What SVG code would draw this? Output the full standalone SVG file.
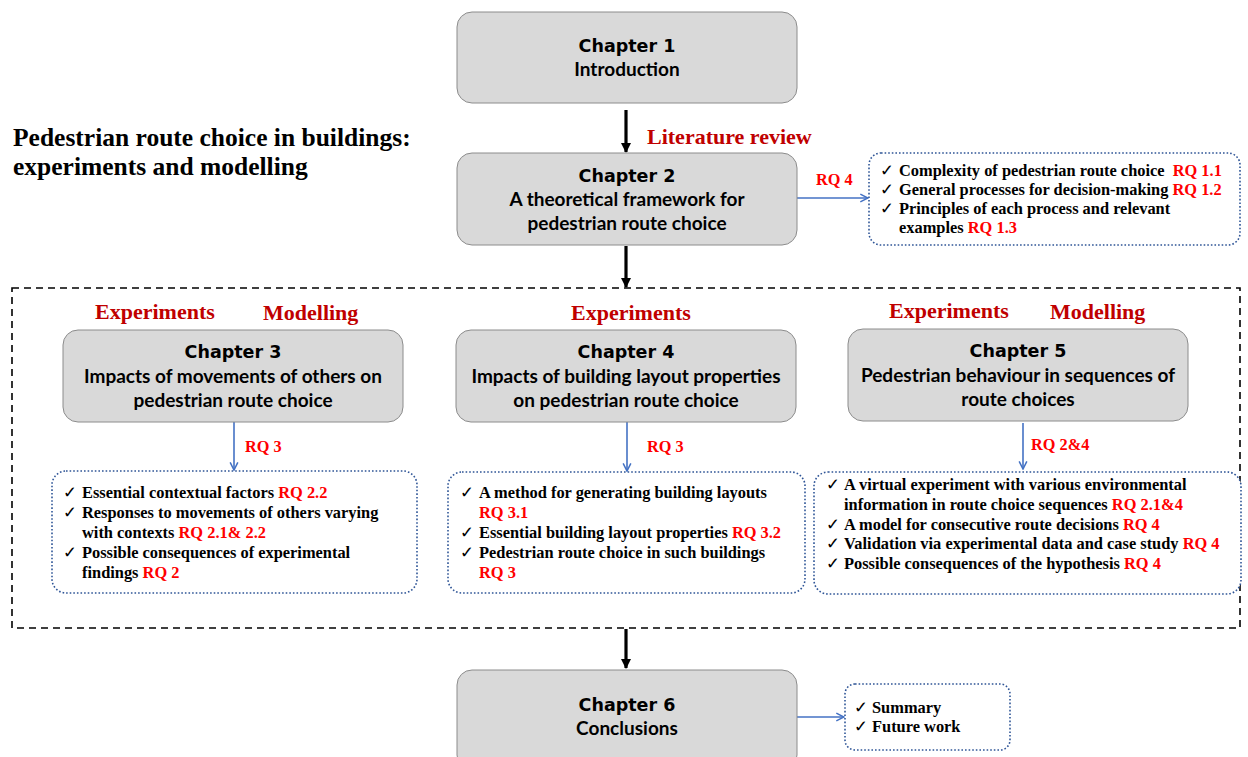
<svg xmlns="http://www.w3.org/2000/svg" width="1248" height="757" viewBox="0 0 1248 757">
  <style>
    .chap { fill: #D9D9D9; stroke: #8C8C8C; stroke-width: 1; }
    .note { fill: #FFFFFF; stroke: #2F5597; stroke-width: 1.6; stroke-dasharray: 1.6 2; }
    .frame { fill: none; stroke: #000; stroke-width: 1.6; stroke-dasharray: 7 5; }
    .flow { stroke: #000; stroke-width: 3.2; fill: none; }
    .link { stroke: #4472C4; stroke-width: 1.6; fill: none; }
    .ch { font-family: "DejaVu Sans", sans-serif; font-weight: bold; font-size: 17.5px; fill: #000; text-anchor: middle; }
    .sub { font-family: Lato, "Open Sans", sans-serif; font-weight: bold; font-size: 19px; fill: #000; text-anchor: middle; }
    .item { font-family: "Liberation Serif", serif; font-weight: bold; font-size: 16.4px; fill: #000; }
    .chk { font-family: "DejaVu Sans", sans-serif; font-size: 16.5px; fill: #000; }
    .rq { fill: #FF0000; }
    .rql { font-family: "Liberation Serif", serif; font-weight: bold; font-size: 16.3px; fill: #FF0000; }
    .tag { font-family: "Liberation Serif", serif; font-weight: bold; font-size: 22px; fill: #C00000; }
    .title { font-family: "Liberation Serif", serif; font-weight: bold; font-size: 25.5px; fill: #000; }
  </style>
  <defs>
    <marker id="blk" viewBox="0 0 10 10" refX="9" refY="5" markerWidth="3.2" markerHeight="3.2" orient="auto" markerUnits="strokeWidth">
      <path d="M0,0 L10,5 L0,10 z" fill="#000"/>
    </marker>
    <marker id="blu" viewBox="0 0 10 10" refX="9" refY="5" markerWidth="6" markerHeight="6" orient="auto" markerUnits="strokeWidth">
      <path d="M1,1 L9,5 L1,9" fill="none" stroke="#4472C4" stroke-width="1.6"/>
    </marker>
  </defs>

  <rect width="1248" height="757" fill="#FFFFFF"/>

  <!-- heading -->
  <text class="title" x="13" y="146">Pedestrian route choice in buildings:</text>
  <text class="title" x="13" y="175">experiments and modelling</text>

  <!-- part frame around chapters 3-5 -->
  <rect class="frame" x="12" y="288" width="1228" height="340"/>

  <!-- connectors -->
  <g id="connectors">
    <line class="flow" x1="626" y1="110" x2="626" y2="152" marker-end="url(#blk)"/>
    <line class="flow" x1="626" y1="246" x2="626" y2="287" marker-end="url(#blk)"/>
    <line class="flow" x1="626" y1="629" x2="626" y2="668" marker-end="url(#blk)"/>
    <line class="link" x1="797" y1="198" x2="868" y2="198" marker-end="url(#blu)"/>
    <line class="link" x1="234" y1="422" x2="234" y2="470" marker-end="url(#blu)"/>
    <line class="link" x1="627" y1="422" x2="627" y2="471" marker-end="url(#blu)"/>
    <line class="link" x1="1023" y1="423" x2="1023" y2="469" marker-end="url(#blu)"/>
    <line class="link" x1="797" y1="717" x2="844" y2="717" marker-end="url(#blu)"/>
    <text class="tag" x="647" y="144">Literature review</text>
    <text class="rql" x="816" y="185">RQ 4</text>
    <text class="rql" x="245" y="452">RQ 3</text>
    <text class="rql" x="647" y="452">RQ 3</text>
    <text class="rql" x="1031" y="450">RQ 2&amp;4</text>
  </g>

  <!-- chapter 1 -->
  <g id="ch1">
    <rect class="chap" x="457" y="12" width="340" height="91" rx="15"/>
    <text class="ch" x="627" y="52">Chapter 1</text>
    <text class="sub" x="627" y="76">Introduction</text>
  </g>

  <!-- chapter 2 -->
  <g id="ch2">
    <rect class="chap" x="457" y="153" width="340" height="92" rx="15"/>
    <text class="ch" x="627" y="182">Chapter 2</text>
    <text class="sub" x="627" y="206">A theoretical framework for</text>
    <text class="sub" x="627" y="230">pedestrian route choice</text>
  </g>

  <g id="ch2-notes">
    <rect class="note" x="869" y="153" width="371" height="92" rx="12"/>
    <text class="chk" x="880" y="176">✓</text>
    <text class="item" x="899" y="176">Complexity of pedestrian route choice <tspan class="rq" dx="4">RQ 1.1</tspan></text>
    <text class="chk" x="880" y="195">✓</text>
    <text class="item" x="899" y="195">General processes for decision-making <tspan class="rq">RQ 1.2</tspan></text>
    <text class="chk" x="880" y="214">✓</text>
    <text class="item" x="899" y="214">Principles of each process and relevant</text>
    <text class="item" x="899" y="233">examples <tspan class="rq">RQ 1.3</tspan></text>
  </g>

  <!-- chapter 3 -->
  <g id="ch3">
    <text class="tag" x="95" y="319">Experiments</text>
    <text class="tag" x="263" y="320">Modelling</text>
    <rect class="chap" x="63" y="330" width="340" height="92" rx="15"/>
    <text class="ch" x="233" y="358">Chapter 3</text>
    <text class="sub" x="233" y="383">Impacts of movements of others on</text>
    <text class="sub" x="233" y="407">pedestrian route choice</text>
  </g>

  <g id="ch3-notes">
    <rect class="note" x="52" y="471" width="365" height="122" rx="14"/>
    <text class="chk" x="63" y="498">✓</text>
    <text class="item" x="82" y="498">Essential contextual factors <tspan class="rq">RQ 2.2</tspan></text>
    <text class="chk" x="63" y="518">✓</text>
    <text class="item" x="82" y="518">Responses to movements of others varying</text>
    <text class="item" x="82" y="538">with contexts <tspan class="rq">RQ 2.1&amp; 2.2</tspan></text>
    <text class="chk" x="63" y="558">✓</text>
    <text class="item" x="82" y="558">Possible consequences of experimental</text>
    <text class="item" x="82" y="578">findings <tspan class="rq">RQ 2</tspan></text>
  </g>

  <!-- chapter 4 -->
  <g id="ch4">
    <text class="tag" x="571" y="320">Experiments</text>
    <rect class="chap" x="456" y="330" width="340" height="92" rx="15"/>
    <text class="ch" x="626" y="358">Chapter 4</text>
    <text class="sub" x="626" y="383">Impacts of building layout properties</text>
    <text class="sub" x="626" y="407">on pedestrian route choice</text>
  </g>

  <g id="ch4-notes">
    <rect class="note" x="448" y="472" width="357" height="121" rx="14"/>
    <text class="chk" x="460" y="498">✓</text>
    <text class="item" x="479" y="498">A method for generating building layouts</text>
    <text class="item rq" x="479" y="518">RQ 3.1</text>
    <text class="chk" x="460" y="538">✓</text>
    <text class="item" x="479" y="538">Essential building layout properties <tspan class="rq">RQ 3.2</tspan></text>
    <text class="chk" x="460" y="558">✓</text>
    <text class="item" x="479" y="558">Pedestrian route choice in such buildings</text>
    <text class="item rq" x="479" y="578">RQ 3</text>
  </g>

  <!-- chapter 5 -->
  <g id="ch5">
    <text class="tag" x="889" y="318">Experiments</text>
    <text class="tag" x="1050" y="319">Modelling</text>
    <rect class="chap" x="848" y="329" width="340" height="92" rx="15"/>
    <text class="ch" x="1018" y="357">Chapter 5</text>
    <text class="sub" x="1018" y="382">Pedestrian behaviour in sequences of</text>
    <text class="sub" x="1018" y="406">route choices</text>
  </g>

  <g id="ch5-notes">
    <rect class="note" x="814" y="472" width="427" height="122" rx="14"/>
    <text class="chk" x="826" y="490">✓</text>
    <text class="item" x="844" y="490">A virtual experiment with various environmental</text>
    <text class="item" x="844" y="510">information in route choice sequences <tspan class="rq">RQ 2.1&amp;4</tspan></text>
    <text class="chk" x="826" y="530">✓</text>
    <text class="item" x="844" y="530">A model for consecutive route decisions <tspan class="rq">RQ 4</tspan></text>
    <text class="chk" x="826" y="549">✓</text>
    <text class="item" x="844" y="549">Validation via experimental data and case study <tspan class="rq">RQ 4</tspan></text>
    <text class="chk" x="826" y="569">✓</text>
    <text class="item" x="844" y="569">Possible consequences of the hypothesis <tspan class="rq">RQ 4</tspan></text>
  </g>

  <!-- chapter 6 -->
  <g id="ch6">
    <rect class="chap" x="457" y="670" width="340" height="100" rx="15"/>
    <text class="ch" x="627" y="711">Chapter 6</text>
    <text class="sub" x="627" y="735">Conclusions</text>
  </g>

  <g id="ch6-notes">
    <rect class="note" x="845" y="684" width="165" height="66" rx="10"/>
    <text class="chk" x="854" y="713">✓</text>
    <text class="item" x="872" y="713">Summary</text>
    <text class="chk" x="854" y="732">✓</text>
    <text class="item" x="872" y="732">Future work</text>
  </g>
</svg>
